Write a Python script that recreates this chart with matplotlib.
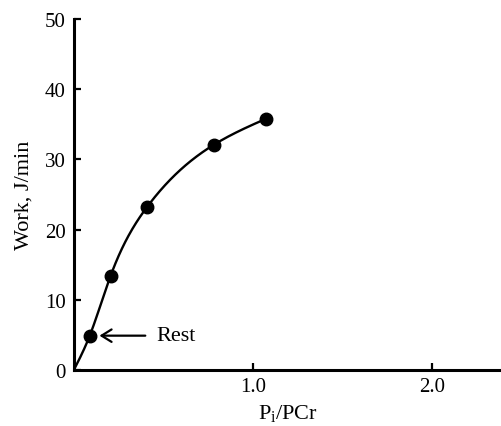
import numpy as np
import matplotlib.pyplot as plt

plt.rcParams['font.family'] = ['Liberation Serif', 'DejaVu Serif']
plt.rcParams['mathtext.fontset'] = 'custom'
plt.rcParams['mathtext.rm'] = 'Liberation Serif'
plt.rcParams['mathtext.it'] = 'Liberation Serif:italic'

# data
pi_pcr = [0.089, 0.205, 0.408, 0.782, 1.073]
work = [4.9, 13.4, 23.2, 32.1, 35.8]
x_ticks = [1.0, 2.0]
x_tick_labels = ['1.0', '2.0']
y_ticks = [0, 10, 20, 30, 40, 50]


def natural_spline(xk, yk, n=300):
    # plain natural cubic spline, just to draw the smooth curve through the points
    xk = np.asarray(xk, float)
    yk = np.asarray(yk, float)
    m = len(xk)
    h = np.diff(xk)
    A = np.zeros((m, m))
    b = np.zeros(m)
    A[0, 0] = A[-1, -1] = 1
    for i in range(1, m - 1):
        A[i, i - 1] = h[i - 1]
        A[i, i] = 2 * (h[i - 1] + h[i])
        A[i, i + 1] = h[i]
        b[i] = 3 * ((yk[i + 1] - yk[i]) / h[i] - (yk[i] - yk[i - 1]) / h[i - 1])
    c = np.linalg.solve(A, b)
    xs = np.linspace(xk[0], xk[-1], n)
    idx = np.clip(np.searchsorted(xk, xs) - 1, 0, m - 2)
    dx = xs - xk[idx]
    hi = h[idx]
    bi = (yk[idx + 1] - yk[idx]) / hi - hi * (2 * c[idx] + c[idx + 1]) / 3
    di = (c[idx + 1] - c[idx]) / (3 * hi)
    ys = yk[idx] + bi * dx + c[idx] * dx ** 2 + di * dx ** 3
    return xs, ys


fig = plt.figure(figsize=(5.02, 4.27), dpi=100)
ax = fig.add_axes([0.147, 0.131, 0.853, 0.822])

cx, cy = natural_spline([0] + pi_pcr, [0] + work)
ax.plot(cx, cy, color='black', lw=1.7, solid_capstyle='round')
ax.plot(pi_pcr, work, 'o', color='black', ms=9)

ax.annotate('Rest', xy=(pi_pcr[0], work[0]), xytext=(48, 0), textcoords='offset points',
            fontsize=16, va='center', ha='left',
            arrowprops=dict(arrowstyle='->, head_length=0.45, head_width=0.28',
                            color='black', lw=1.6, shrinkA=6, shrinkB=7))

ax.set_xlim(0, 2.39)
ax.set_ylim(0, 50)
ax.set_xticks(x_ticks)
ax.set_xticklabels(x_tick_labels)
ax.set_yticks(y_ticks)
ax.tick_params(direction='in', length=5, width=1.6, labelsize=15, pad=5)
ax.tick_params(axis='y', pad=6)

for s in ['top', 'right']:
    ax.spines[s].set_visible(False)
for s in ['left', 'bottom']:
    ax.spines[s].set_linewidth(2.2)

ax.set_xlabel('P$_\\mathrm{i}$/PCr', fontsize=16, labelpad=4)
ax.set_ylabel('Work, J/min', fontsize=16, labelpad=8)

fig.savefig('out.png', dpi=100)
